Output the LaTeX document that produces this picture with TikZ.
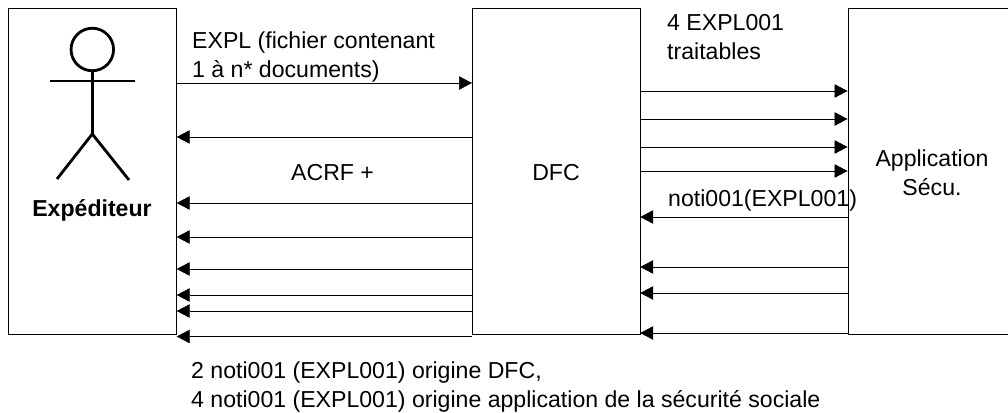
\documentclass[tikz,border=0pt]{standalone}
\usepackage{fontspec}
\setmainfont{Liberation Sans}
\usetikzlibrary{arrows.meta}
\tikzset{
  x=1pt,y=-1pt,
  box/.style={draw,line width=0.7pt,rectangle,inner sep=0pt,anchor=north west},
  msg/.style={line width=0.7pt,-{Triangle[length=13pt,width=13.5pt]},shorten >=0pt},
  limb/.style={line width=2.8pt},
  lbl/.style={anchor=base west,inner sep=0pt,yshift=-0.7pt,font=\fontsize{23.1}{26}\selectfont},
  ctr/.style={anchor=base,inner sep=0pt,yshift=-0.7pt,font=\fontsize{23.1}{26}\selectfont,align=center},
}
\begin{document}
\begin{tikzpicture}
\useasboundingbox (0,0) rectangle (1008,412);
\clip (0,0) rectangle (1008,412);
\node[box,minimum width=168pt,minimum height=325pt] (exp) at (8,8.5) {};
\node[box,minimum width=167.5pt,minimum height=325pt] (dfc) at (472,8.5) {};
\node[box,minimum width=170pt,minimum height=325pt] (app) at (847.5,8.5) {};
% actor
\node[draw,circle,line width=2.8pt,minimum size=42.5pt,inner sep=0pt] (head) at (92.3,49.5) {};
\coordinate (hand1) at (50,81);
\coordinate (hand2) at (135,81);
\coordinate (hip) at (92.3,134);
\coordinate (foot1) at (57,179);
\coordinate (foot2) at (129,180);
\draw[limb] (head.south) -- (hip);
\draw[limb] (hand1) -- (hand2);
\draw[limb] (foot1) -- (hip) -- (foot2);
% labels
\node[ctr,font=\fontsize{23.1}{26}\selectfont\bfseries] (lexp) at (92,216) {Expéditeur};
\node[lbl] (l1) at (192,48) {EXPL (fichier contenant};
\node[lbl] (l2) at (192,77) {1 à n* documents)};
\node[lbl] (l3) at (291,180) {ACRF +};
\node[ctr] (l4) at (556,180) {DFC};
\node[lbl] (l5) at (667,30) {4 EXPL001};
\node[lbl] (l6) at (667,59) {traitables};
\node[lbl] (l7) at (668,206) {noti001(EXPL001)};
\node[ctr] (l8) at (932,166) {Application};
\node[ctr] (l9) at (932,195) {Sécu.};
\node[lbl] (l10) at (191,378) {2 noti001 (EXPL001) origine DFC,};
\node[lbl] (l11) at (191,407) {4 noti001 (EXPL001) origine application de la sécurité sociale};
% messages
\draw[msg] (exp.east |- 0,83) -- (dfc.west |- 0,83);
\foreach \y in {137,203,237,269,295,311,336.5}
  \draw[msg] (dfc.west |- 0,\y) -- (exp.east |- 0,\y);
\foreach \y in {91,119,147,171}
  \draw[msg] (dfc.east |- 0,\y) -- (app.west |- 0,\y);
\foreach \y in {217,267,293,333}
  \draw[msg] (app.west |- 0,\y) -- (dfc.east |- 0,\y);
\end{tikzpicture}
\end{document}
